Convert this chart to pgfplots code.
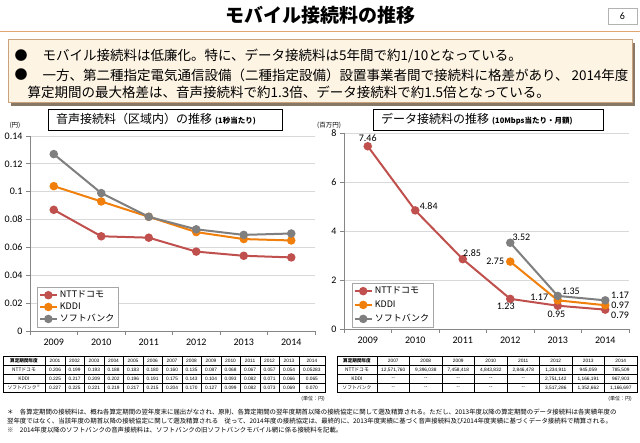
\documentclass[border=0pt]{standalone}
\usepackage{fontspec}
\usepackage{pgfplots}
\pgfplotsset{compat=1.18}
\setmainfont{Noto Sans CJK JP}
\newfontfamily\calfont{Carlito}
\newfontfamily\arialfont{Liberation Sans}
\newcommand{\fs}[1]{\fontsize{#1}{#1}\selectfont}
\definecolor{ntt}{HTML}{C0504D}
\definecolor{kddi}{HTML}{F07F0C}
\definecolor{sb}{HTML}{7F7F7F}
\definecolor{gridc}{HTML}{D9D9D9}
\definecolor{axisc}{HTML}{868686}
\definecolor{boxfill}{HTML}{FEF4E4}
\definecolor{boxdraw}{HTML}{C9A27E}
\definecolor{shadowc}{HTML}{8A7866}
\definecolor{orangeline}{HTML}{E2A672}
\pgfplotsset{
  slide/.style={
    scale only axis, width=285pt,
    xmin=-0.5, xmax=5.5, ymin=0,
    axis x line*=bottom, axis y line*=left,
    axis line style={axisc, line width=0.8pt},
    tick style={axisc, line width=0.8pt},
    tick align=outside, major tick length=4pt,
    ymajorgrids, grid style={gridc, line width=0.8pt},
    xtick={-0.5,0.5,1.5,2.5,3.5,4.5,5.5},
    x tick label as interval,
    xticklabels={2009,2010,2011,2012,2013,2014},
    tick label style={font=\calfont\fs{10}, text=black},
    /pgf/number format/assume math mode=true,
    legend style={draw=gray!70, fill=white, font=\fs{9}, inner sep=1.5pt, row sep=-0.5pt, cells={anchor=west}},
    legend cell align=left,
  },
  ser/.style={line width=2pt, mark=*, mark size=3.2pt, mark options={solid}},
}
\begin{document}
\begin{tikzpicture}[x=1pt,y=1pt]
\useasboundingbox (0,0) rectangle (640,442);
\fill[white] (0,0) rectangle (640,442);

% ---- title
\node[font=\fs{19}\bfseries] at (320,427) {モバイル接続料の推移};
\draw[gray!60, line width=0.6pt] (608,434) rectangle (637,418);
\node[font=\calfont\fs{10}] at (622.5,426) {6};
\draw[orangeline, line width=1.2pt] (0,410.5) -- (640,410.5);

% ---- bullet box
\fill[shadowc] (11,399) rectangle (635,336);
\draw[boxdraw, fill=boxfill, line width=1pt] (8,402) rectangle (632,339);
\node[anchor=west, font=\fs{13}] at (11,386) {●};
\node[anchor=west, font=\fs{13.5}] at (39,386) {モバイル接続料は低廉化。特に、データ接続料は5年間で約1/10となっている。};
\node[anchor=west, font=\fs{13}] at (11,367) {●};
\node[anchor=west, font=\fs{13.5}] at (39,367) {一方、第二種指定電気通信設備（二種指定設備）設置事業者間で接続料に格差があり、 2014年度};
\node[anchor=west, font=\fs{13.5}] at (24,350) {算定期間の最大格差は、音声接続料で約1.3倍、データ接続料で約1.5倍となっている。};

% ---- left chart
\begin{axis}[slide, at={(30pt,111pt)}, anchor=south west, height=195pt,
  ymax=0.14,
  ytick={0,0.02,0.04,0.06,0.08,0.1,0.12,0.14},
  yticklabels={0,0.02,0.04,0.06,0.08,0.1,0.12,0.14},
  legend style={at={(0.025,0.02)}, anchor=south west},
]
\addplot[ser, color=ntt] coordinates {(0,0.087)(1,0.068)(2,0.067)(3,0.057)(4,0.054)(5,0.05283)};
\addplot[ser, color=kddi] coordinates {(0,0.104)(1,0.093)(2,0.082)(3,0.071)(4,0.066)(5,0.065)};
\addplot[ser, color=sb] coordinates {(0,0.127)(1,0.099)(2,0.082)(3,0.073)(4,0.069)(5,0.070)};
\legend{NTTドコモ,KDDI,ソフトバンク}
\end{axis}

% ---- right chart
\begin{axis}[slide, at={(344pt,113pt)}, anchor=south west, height=196pt,
  ymax=8,
  ytick={0,2,4,6,8}, yticklabels={0,2,4,6,8},
  legend style={at={(0.028,0.01)}, anchor=south west, row sep=1.5pt},
  nodes near coords, point meta=explicit symbolic,
  visualization depends on={value \thisrow{dx}\as\dx},
  visualization depends on={value \thisrow{dy}\as\dy},
  every node near coord/.style={anchor=center, xshift=\dx pt, yshift=\dy pt, font=\calfont\fs{10}, text=black, inner sep=0pt},
]
\addplot[ser, color=ntt] table[x=x, y=y, meta=y] {
x y dx dy
0 7.46 0 8
1 4.84 13.5 4.7
2 2.85 9.3 6
3 1.23 -4.5 -7
4 0.95 -1.3 -8.3
5 0.79 14.8 -5.4
};
\addplot[ser, color=kddi] table[x=x, y=y, meta=y] {
x y dx dy
3 2.75 -15 0.6
4 1.17 -18.5 2.6
5 0.97 15 0
};
\addplot[ser, color=sb] table[x=x, y=y, meta=y] {
x y dx dy
3 3.52 11.2 5.5
4 1.35 13.2 5
5 1.17 14.8 4.6
};
\legend{NTTドコモ,KDDI,ソフトバンク}
\end{axis}

% ---- chart title boxes
\draw[fill=white, line width=0.8pt] (48,333) rectangle (282,312);
\node[anchor=west, inner sep=0pt] at (56,322.5) {\fs{12}音声接続料（区域内）の推移\hspace{3pt}\fs{7.5}\bfseries (1秒当たり)};
\draw[fill=white, line width=0.8pt] (373,333) rectangle (603,312);
\node[anchor=west, inner sep=0pt] at (381,322.5) {\fs{12}データ接続料の推移\hspace{3pt}\fs{7.5}\bfseries (10Mbps当たり・月額)};
\node[font=\fs{6.5}] at (15,317) {(円)};
\node[font=\fs{6.5}] at (329,317) {(百万円)};

% ---- left table
\begin{scope}[line width=0.4pt]
\draw (2.7,49.7) rectangle (325,85.3);
\foreach \yy in {77,67.7,58.7} \draw (2.7,\yy) -- (325,\yy);
\draw (45.3,49.7) -- (45.3,85.3);
\foreach \k in {1,...,13} \draw ({45.3+19.5*\k},49.7) -- ({45.3+19.5*\k},85.3);
\end{scope}
\node[font=\fs{4.6}\bfseries] at (24,81.15) {算定期間年度};
\node[font=\fs{4.8}] at (24,72.35) {NTTドコモ};
\node[font=\fs{4.8}] at (24,63.2) {KDDI};
\node[font=\fs{4.8}] at (24,54.2) {ソフトバンク\textsuperscript{※}};
\foreach \v [count=\i] in {2001,2002,2003,2004,2005,2006,2007,2008,2009,2010,2011,2012,2013}
  \node[font=\arialfont\fs{4.8}] at ({45.3+19.5*(\i-0.5)},81.15) {\v};
\node[font=\arialfont\fs{4.8}] at (311.9,81.15) {2014};
\foreach \v [count=\i] in {0.206,0.199,0.193,0.188,0.183,0.180,0.160,0.135,0.087,0.068,0.067,0.057,0.054}
  \node[font=\arialfont\fs{4.8}] at ({45.3+19.5*(\i-0.5)},72.35) {\v};
\node[font=\arialfont\fs{4.8}] at (311.9,72.35) {0.05283};
\foreach \v [count=\i] in {0.225,0.217,0.209,0.202,0.196,0.191,0.175,0.143,0.104,0.093,0.082,0.071,0.066}
  \node[font=\arialfont\fs{4.8}] at ({45.3+19.5*(\i-0.5)},63.2) {\v};
\node[font=\arialfont\fs{4.8}] at (311.9,63.2) {0.065};
\foreach \v [count=\i] in {0.227,0.225,0.221,0.219,0.217,0.215,0.204,0.170,0.127,0.099,0.082,0.073,0.069}
  \node[font=\arialfont\fs{4.8}] at ({45.3+19.5*(\i-0.5)},54.2) {\v};
\node[font=\arialfont\fs{4.8}] at (311.9,54.2) {0.070};
\node[font=\fs{5}] at (313,43) {(単位：円)};

% ---- right table
\begin{scope}[line width=0.4pt]
\draw (337,49.7) rectangle (637,85.3);
\foreach \yy in {77,67.7,58.7} \draw (337,\yy) -- (637,\yy);
\foreach \k in {0,...,7} \draw ({377+32.5*\k},49.7) -- ({377+32.5*\k},85.3);
\end{scope}
\node[font=\fs{4.6}\bfseries] at (357,81.15) {算定期間年度};
\node[font=\fs{4.8}] at (357,72.35) {NTTドコモ};
\node[font=\fs{4.8}] at (357,63.2) {KDDI};
\node[font=\fs{4.8}] at (357,54.2) {ソフトバンク};
\foreach \v [count=\i] in {2007,2008,2009,2010,2011,2012,2013,2014}
  \node[font=\arialfont\fs{4.8}] at ({377+32.5*(\i-0.5)},81.15) {\v};
\foreach \v [count=\i] in {{12,571,760},{9,396,038},{7,458,418},{4,843,832},{2,846,478},{1,234,911},{945,059},{785,509}}
  \node[font=\arialfont\fs{4.8}] at ({377+32.5*(\i-0.5)},72.35) {\v};
\foreach \v [count=\i] in {--,--,--,--,--,{2,751,142},{1,166,191},{967,903}}
  \node[font=\arialfont\fs{4.8}] at ({377+32.5*(\i-0.5)},63.2) {\v};
\foreach \v [count=\i] in {--,--,--,--,--,{3,517,286},{1,352,662},{1,166,697}}
  \node[font=\arialfont\fs{4.8}] at ({377+32.5*(\i-0.5)},54.2) {\v};
\node[font=\fs{5}] at (620,43) {(単位：円)};

% ---- footnotes
\node[anchor=west, font=\fs{6.4}, inner sep=0pt] at (7,30) {＊　各算定期間の接続料は、概ね各算定期間の翌年度末に届出がなされ、原則、各算定期間の翌年度期首以降の接続協定に関して遡及精算される。ただし、2013年度以降の算定期間のデータ接続料は各実績年度の};
\node[anchor=west, font=\fs{6.4}, inner sep=0pt] at (7,21) {翌年度ではなく、当該年度の期首以降の接続協定に関して遡及精算される　従って、2014年度の接続協定は、最終的に、2013年度実績に基づく音声接続料及び2014年度実績に基づくデータ接続料で精算される。};
\node[anchor=west, font=\fs{6.4}, inner sep=0pt] at (7,12) {※　2014年度以降のソフトバンクの音声接続料は、ソフトバンクの旧ソフトバンクモバイル網に係る接続料を記載。};
\end{tikzpicture}
\end{document}
